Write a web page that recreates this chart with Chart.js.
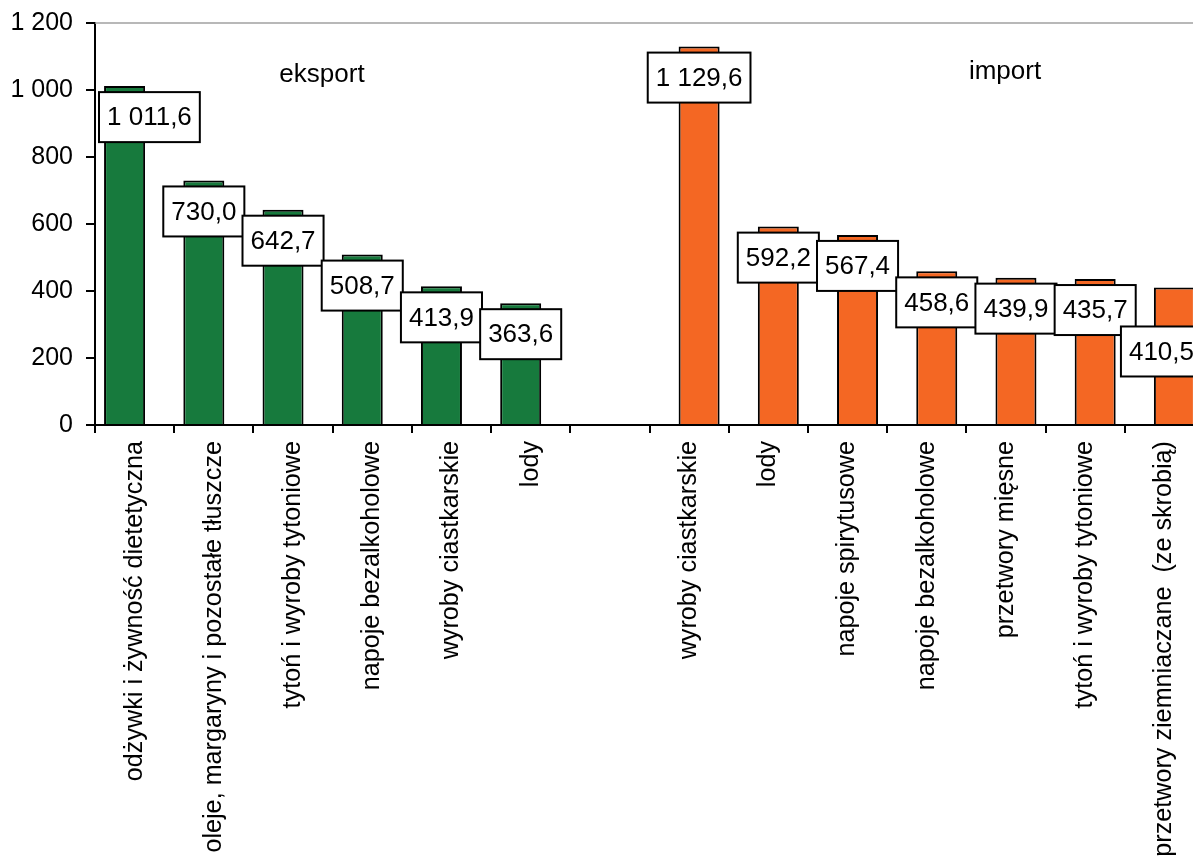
<!DOCTYPE html>
<html lang="pl">
<head>
<meta charset="utf-8">
<title>Eksport i import</title>
<script src="https://cdn.jsdelivr.net/npm/chart.js@4.4.1/dist/chart.umd.min.js"></script>
<style>
    html, body { margin: 0; padding: 0; background: #fff; overflow: hidden; }
    #wrap { width: 1204px; height: 860px; }
</style>
</head>
<body>
<div id="wrap"><canvas id="wykres"></canvas></div>
<script>
// dane
const kategorieEksport = ['odżywki i żywność dietetyczna', 'oleje, margaryny i pozostałe tłuszcze', 'tytoń i wyroby tytoniowe', 'napoje bezalkoholowe', 'wyroby ciastkarskie', 'lody'];
const kategorieImport = ['wyroby ciastkarskie', 'lody', 'napoje spirytusowe', 'napoje bezalkoholowe', 'przetwory mięsne', 'tytoń i wyroby tytoniowe', 'przetwory ziemniaczane  (ze skrobią)'];
const wartosciEksport = [1011.6, 730.0, 642.7, 508.7, 413.9, 363.6];
const wartosciImport = [1129.6, 592.2, 567.4, 458.6, 439.9, 435.7, 410.5];
const podzialkaY = [0, 200, 400, 600, 800, 1000, 1200];

const ZIELONY = '#177a3d';
const POMARANCZOWY = '#f46723';
const FONT = '"Liberation Sans", Arial, sans-serif';

// wspólna oś: eksport, pusta kategoria, import
const kategorie = [...kategorieEksport, '', ...kategorieImport];
const seriaEksport = [...wartosciEksport, null, ...kategorieImport.map(() => null)];
const seriaImport = [...kategorieEksport.map(() => null), null, ...wartosciImport];

// 1 011,6 zamiast 1011.6
function formatujLiczbe(v, miejsca) {
    const [calk, ulamek] = v.toFixed(miejsca).split('.');
    const calkSp = calk.replace(/\B(?=(\d{3})+(?!\d))/g, ' ');
    return ulamek ? calkSp + ',' + ulamek : calkSp;
}

// ramki z wartościami + opisy grup
const etykietyWartosci = {
    id: 'etykietyWartosci',
    beforeDatasetsDraw(chart) {
        const { ctx, chartArea } = chart;
        ctx.save();
        ctx.strokeStyle = '#a0a0a0';
        ctx.lineWidth = 1.5;
        ctx.beginPath();
        ctx.moveTo(chartArea.left, chartArea.top);
        ctx.lineTo(chartArea.right, chartArea.top);
        ctx.stroke();
        ctx.restore();
    },
    afterDatasetsDraw(chart) {
        const { ctx, chartArea } = chart;
        ctx.save();
        ctx.font = '26px ' + FONT;
        ctx.textAlign = 'center';
        ctx.textBaseline = 'middle';
        chart.data.datasets.forEach((ds, d) => {
            const meta = chart.getDatasetMeta(d);
            meta.data.forEach((bar, i) => {
                const v = ds.data[i];
                if (v == null) return;
                const tekst = formatujLiczbe(v, 1);
                const w = ctx.measureText(tekst).width + 16;
                const h = 50;
                let x = bar.x - w / 2;
                let y = bar.y + 6;
                if (x < chartArea.left + 4) x = chartArea.left + 4;
                // ostatnia ramka nie mieści się - przesunięta w lewo i w dół
                if (x + w > chartArea.right) { x = chartArea.right - w - 2; y += 33; }
                ctx.fillStyle = '#fff';
                ctx.fillRect(x, y, w, h);
                ctx.lineWidth = 2;
                ctx.strokeStyle = '#000';
                ctx.strokeRect(x, y, w, h);
                ctx.fillStyle = '#000';
                ctx.fillText(tekst, x + w / 2, y + h / 2 + 1);
            });
        });
        ctx.fillText('eksport', 322, 75);
        ctx.fillText('import', 1005, 72);
        ctx.restore();
    }
};

Chart.defaults.font.family = FONT;
Chart.defaults.color = '#000';

new Chart(document.getElementById('wykres'), {
    type: 'bar',
    data: {
        labels: kategorie,
        datasets: [
            {
                label: 'eksport',
                data: seriaEksport,
                backgroundColor: ZIELONY,
                borderColor: '#000',
                borderWidth: 2,
                categoryPercentage: 0.505,
                barPercentage: 2.05
            },
            {
                label: 'import',
                data: seriaImport,
                backgroundColor: POMARANCZOWY,
                borderColor: '#000',
                borderWidth: 2,
                categoryPercentage: 0.505,
                barPercentage: 2.05
            }
        ]
    },
    options: {
        responsive: true,
        maintainAspectRatio: false,
        animation: false,
        layout: { padding: { top: 23, right: 0, bottom: 0, left: 0 } },
        plugins: {
            legend: { display: false },
            tooltip: { enabled: false }
        },
        scales: {
            x: {
                offset: true,
                grid: { display: true, drawOnChartArea: false, offset: true, tickLength: 8, color: '#000', lineWidth: 2 },
                border: { color: '#000', width: 2 },
                ticks: {
                    autoSkip: false,
                    minRotation: 90,
                    maxRotation: 90,
                    padding: 8,
                    font: { size: 25.2 }
                },
                afterFit(scale) {
                    scale.height = 435;
                    scale.paddingLeft = 0;
                    scale.paddingRight = 0;
                }
            },
            y: {
                min: 0,
                max: 1200,
                afterBuildTicks(scale) { scale.ticks = podzialkaY.map(v => ({ value: v })); },
                grid: { display: true, drawOnChartArea: false, tickLength: 9, color: '#000', lineWidth: 2 },
                border: { color: '#000', width: 2 },
                ticks: {
                    padding: 13,
                    font: { size: 25 },
                    callback: v => formatujLiczbe(v, 0)
                },
                afterFit(scale) {
                    scale.width = 95;
                    scale.paddingTop = 0;
                    scale.paddingBottom = 0;
                }
            }
        }
    },
    plugins: [etykietyWartosci]
});
</script>
</body>
</html>
